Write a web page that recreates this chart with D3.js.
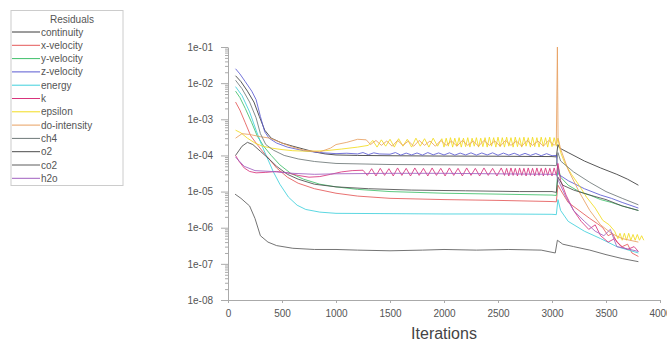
<!DOCTYPE html>
<html>
<head>
<meta charset="utf-8">
<script src="https://cdn.jsdelivr.net/npm/d3@7"></script>
<style>
  body { margin: 0; background: #fff; }
  svg { font-family: "Liberation Sans", Arial, sans-serif; }
  .axis text { fill: #555; font-size: 10px; }
  .axis path, .axis line { stroke: #aaa; }
  .legend text { fill: #555; font-size: 10px; }
</style>
</head>
<body>
<div id="chart"></div>
<script>
// residual histories, [iteration, residual]
const continuity = [[70,1.6e-2],[120,1.1e-2],[180,6e-3],[240,3e-3],[290,1.2e-3],[340,5e-4],[400,3e-4],[500,2.2e-4],[600,1.8e-4],[700,1.5e-4],[800,1.25e-4],[900,1.1e-4],[1000,1.03e-4],[1200,1e-4],[1500,9.8e-5],[2000,9.6e-5],[2500,9.5e-5],[3000,9.3e-5],[3040,9.1e-5],[3055,2e-4],[3070,1.6e-4],[3150,1.2e-4],[3300,7e-5],[3450,4.5e-5],[3600,3e-5],[3700,2.2e-5],[3800,1.5e-5]];
const xVelocity = [[70,3e-3],[110,1.8e-3],[160,8e-4],[210,3.5e-4],[260,2.2e-4],[320,1.3e-4],[380,8e-5],[450,4.5e-5],[550,2.5e-5],[650,1.7e-5],[800,1.2e-5],[1000,9e-6],[1200,7.5e-6],[1500,6.5e-6],[2000,6e-6],[2500,5.7e-6],[3000,5.3e-6],[3040,5.2e-6],[3055,1.5e-5],[3080,1.1e-5],[3150,5e-6],[3250,3e-6],[3350,1.8e-6],[3420,1.3e-6],[3470,1e-6],[3520,6e-7],[3560,7e-7],[3600,4e-7],[3650,3e-7],[3700,3.5e-7],[3740,2e-7],[3800,1.6e-7]];
const yVelocity = [[70,6e-3],[110,4e-3],[160,2e-3],[220,8e-4],[270,3.5e-4],[330,1.8e-4],[400,1e-4],[480,5.5e-5],[580,3.2e-5],[700,2.2e-5],[850,1.6e-5],[1000,1.35e-5],[1200,1.15e-5],[1500,1e-5],[2000,9e-6],[2500,8.5e-6],[3000,8e-6],[3040,7.8e-6],[3055,5e-5],[3080,2.5e-5],[3150,1.5e-5],[3250,1e-5],[3350,8e-6],[3450,6e-6],[3550,5e-6],[3650,4e-6],[3800,3e-6]];
const zVelocity = [[70,2.5e-2],[110,1.8e-2],[160,1.1e-2],[220,6e-3],[260,3.5e-3],[300,1.2e-3],[340,4.5e-4],[380,3e-4],[450,2.2e-4],[550,1.7e-4],[700,1.35e-4],[850,1.2e-4],[1000,1.12e-4],[1100,1.15e-4],[1200,1.1e-4],[1250,1.2e-4],[1300,1.05e-4],[1350,1.18e-4],[1400,1.1e-4],[1500,1.08e-4],[1550,1.2e-4],[1600,1.02e-4],[1650,1.16e-4],[1700,1.03e-4],[1750,1.17e-4],[1800,1.02e-4],[1850,1.2e-4],[1900,1.04e-4],[1950,1.17e-4],[2000,1.03e-4],[2050,1.18e-4],[2100,1.02e-4],[2150,1.16e-4],[2200,1.03e-4],[2250,1.18e-4],[2300,1.02e-4],[2350,1.17e-4],[2400,1.03e-4],[2450,1.18e-4],[2500,1.01e-4],[2550,1.16e-4],[2600,1.02e-4],[2650,1.15e-4],[2700,1e-4],[2750,1.14e-4],[2800,1e-4],[2850,1.13e-4],[2900,9.8e-5],[2950,1.12e-4],[3000,9.8e-5],[3040,1e-4],[3060,3e-5],[3150,2e-5],[3300,1.2e-5],[3450,8e-6],[3550,6.5e-6],[3650,5e-6],[3800,3.5e-6]];
const energy = [[70,8e-3],[130,4.5e-3],[200,1.6e-3],[260,5e-4],[310,2e-4],[360,9e-5],[420,3.5e-5],[480,1.6e-5],[560,7e-6],[640,4.2e-6],[720,3.2e-6],[850,2.7e-6],[1000,2.5e-6],[1500,2.45e-6],[2000,2.4e-6],[2500,2.4e-6],[3000,2.35e-6],[3040,2.3e-6],[3055,6e-6],[3080,3e-6],[3150,1.5e-6],[3300,8e-7],[3450,5e-7],[3600,3e-7],[3800,2e-7]];
const kTurb = [[70,1e-4],[100,7e-5],[150,4.5e-5],[200,3.6e-5],[260,3.3e-5],[350,3.4e-5],[450,3.6e-5],[550,3.3e-5],[650,2.8e-5],[750,2.5e-5],[850,2.6e-5],[950,3e-5],[1050,3.5e-5],[1150,3.8e-5],[1250,3.9e-5],[1290,2.8e-5],[1330,4.3e-5],[1370,2.7e-5],[1410,4.4e-5],[1450,2.8e-5],[1490,4.3e-5],[1530,2.7e-5],[1570,4.5e-5],[1610,2.8e-5],[1650,4.4e-5],[1690,2.7e-5],[1730,4.5e-5],[1770,2.8e-5],[1810,4.4e-5],[1850,2.7e-5],[1890,4.5e-5],[1930,2.8e-5],[1970,4.4e-5],[2010,2.7e-5],[2050,4.5e-5],[2090,2.8e-5],[2130,4.4e-5],[2170,2.7e-5],[2210,4.5e-5],[2250,2.8e-5],[2290,4.4e-5],[2330,2.7e-5],[2370,4.5e-5],[2410,2.8e-5],[2450,4.4e-5],[2490,2.7e-5],[2530,4.5e-5],[2560,2.8e-5],[2580,4.4e-5],[2600,2.7e-5],[2620,4.5e-5],[2640,2.8e-5],[2660,4.4e-5],[2680,2.7e-5],[2700,4.5e-5],[2720,2.8e-5],[2740,4.4e-5],[2760,2.7e-5],[2780,4.5e-5],[2800,2.8e-5],[2820,4.4e-5],[2840,2.7e-5],[2860,4.5e-5],[2880,2.8e-5],[2900,4.4e-5],[2920,2.7e-5],[2940,4.5e-5],[2960,2.8e-5],[2980,4.4e-5],[3000,2.7e-5],[3020,4.5e-5],[3040,2.8e-5],[3055,6e-5],[3080,2e-5],[3130,8e-6],[3200,3e-6],[3270,1.5e-6],[3340,9e-7],[3400,1.2e-6],[3450,6e-7],[3520,4e-7],[3580,5e-7],[3640,3e-7],[3700,2.5e-7],[3760,3e-7],[3800,2.2e-7]];
const epsilon = [[70,5e-4],[120,4.2e-4],[180,3e-4],[250,2.2e-4],[320,1.8e-4],[400,1.6e-4],[500,1.45e-4],[600,1.35e-4],[750,1.3e-4],[900,1.35e-4],[1050,1.5e-4],[1200,1.7e-4],[1300,1.9e-4],[1340,2.6e-4],[1380,1.7e-4],[1420,2.7e-4],[1460,1.8e-4],[1500,2.8e-4],[1540,1.7e-4],[1580,2.9e-4],[1620,1.8e-4],[1660,2.8e-4],[1700,1.7e-4],[1740,3e-4],[1780,1.8e-4],[1820,2.9e-4],[1860,1.7e-4],[1900,3e-4],[1940,1.8e-4],[1980,2.9e-4],[2000,1.7e-4],[2020,3e-4],[2040,1.8e-4],[2060,3.1e-4],[2080,1.7e-4],[2100,3e-4],[2120,1.8e-4],[2140,3.1e-4],[2160,1.7e-4],[2180,3e-4],[2200,1.75e-4],[2220,3.1e-4],[2240,1.7e-4],[2260,3e-4],[2280,1.8e-4],[2300,3.1e-4],[2320,1.7e-4],[2340,3e-4],[2360,1.75e-4],[2380,3.1e-4],[2400,1.7e-4],[2420,3.2e-4],[2440,1.8e-4],[2460,3.1e-4],[2480,1.7e-4],[2500,3.2e-4],[2520,1.75e-4],[2540,3.1e-4],[2560,1.7e-4],[2580,3.2e-4],[2600,1.8e-4],[2620,3.1e-4],[2640,1.7e-4],[2660,3.2e-4],[2680,1.75e-4],[2700,3.1e-4],[2720,1.7e-4],[2740,3.2e-4],[2760,1.8e-4],[2780,3.1e-4],[2800,1.7e-4],[2820,3.2e-4],[2840,1.75e-4],[2860,3.1e-4],[2880,1.7e-4],[2900,3.2e-4],[2920,1.8e-4],[2940,3.1e-4],[2960,1.7e-4],[2980,3.2e-4],[3000,1.75e-4],[3020,3.1e-4],[3040,1.8e-4],[3055,3e-4],[3080,1.2e-4],[3120,6e-5],[3180,3e-5],[3250,1.5e-5],[3320,7e-6],[3400,3.5e-6],[3470,1.6e-6],[3530,1.2e-6],[3580,8e-7],[3610,5e-7],[3630,7e-7],[3650,4.5e-7],[3670,7e-7],[3690,4.5e-7],[3710,7e-7],[3730,4.5e-7],[3750,6.5e-7],[3770,4.5e-7],[3790,6.5e-7],[3810,4.5e-7],[3830,6e-7],[3850,4.5e-7]];
const doIntensity = [[70,3e-4],[130,4e-4],[200,3.8e-4],[300,3.3e-4],[390,3e-4],[500,2.2e-4],[600,1.7e-4],[700,1.4e-4],[850,1.25e-4],[950,1.6e-4],[1000,2e-4],[1100,2.3e-4],[1200,2.8e-4],[1280,2.7e-4],[1320,2e-4],[1370,2.6e-4],[1420,1.9e-4],[1470,2.5e-4],[1520,1.8e-4],[1570,2.6e-4],[1620,1.9e-4],[1670,2.5e-4],[1720,1.8e-4],[1770,2.6e-4],[1820,1.9e-4],[1870,2.5e-4],[1920,1.8e-4],[1970,2.6e-4],[2020,1.9e-4],[2070,2.5e-4],[2120,1.8e-4],[2170,2.6e-4],[2220,1.9e-4],[2270,2.5e-4],[2320,1.8e-4],[2370,2.6e-4],[2420,1.9e-4],[2470,2.5e-4],[2520,1.8e-4],[2570,2.6e-4],[2620,1.9e-4],[2670,2.5e-4],[2720,1.8e-4],[2770,2.6e-4],[2820,1.9e-4],[2870,2.5e-4],[2920,1.8e-4],[2970,2.6e-4],[3020,1.9e-4],[3040,2.2e-4],[3050,1e-1],[3056,3e-4],[3080,1.5e-4],[3150,4e-5],[3250,1e-5],[3350,3e-6],[3450,1.2e-6],[3550,7e-7],[3650,5e-7],[3800,4e-7]];
const ch4 = [[70,1.2e-2],[130,7e-3],[200,3e-3],[260,1.1e-3],[300,4e-4],[350,2e-4],[420,1.4e-4],[520,1e-4],[650,8e-5],[800,6.8e-5],[1000,6e-5],[1500,5.6e-5],[2000,5.5e-5],[2500,5.4e-5],[3000,5.3e-5],[3040,5.2e-5],[3055,1.2e-4],[3080,7e-5],[3200,3.5e-5],[3350,1.8e-5],[3500,1e-5],[3650,6.5e-6],[3800,4.3e-6]];
const o2 = [[70,1e-4],[130,1.8e-4],[180,2.3e-4],[230,2e-4],[300,1.3e-4],[380,8e-5],[450,5e-5],[550,3e-5],[650,2.2e-5],[800,1.6e-5],[1000,1.35e-5],[1300,1.2e-5],[1700,1.1e-5],[2200,1.05e-5],[2700,1e-5],[3000,1e-5],[3040,9.5e-6],[3055,2.5e-5],[3100,1.5e-5],[3200,1.1e-5],[3350,8e-6],[3500,6e-6],[3650,4e-6],[3800,3e-6]];
const co2 = [[65,8.5e-6],[120,6.5e-6],[200,4e-6],[250,1.8e-6],[300,6e-7],[370,4e-7],[450,3.2e-7],[600,2.7e-7],[800,2.5e-7],[1000,2.5e-7],[1200,2.4e-7],[1500,2.3e-7],[1800,2.4e-7],[2000,2.5e-7],[2300,2.4e-7],[2600,2.5e-7],[2900,2.4e-7],[3030,2e-7],[3050,4.5e-7],[3100,3.5e-7],[3200,3e-7],[3350,2.4e-7],[3500,1.8e-7],[3650,1.4e-7],[3800,1.15e-7]];
const h2o = [[70,9e-5],[150,5e-5],[250,3.8e-5],[400,3.6e-5],[600,3.2e-5],[800,3e-5],[1000,3.1e-5],[1500,3.2e-5],[2000,3.2e-5],[2500,3.1e-5],[3000,3e-5],[3040,3e-5],[3060,2e-5],[3130,7e-6],[3200,3e-6],[3300,1.5e-6],[3400,8e-7],[3480,6e-7],[3540,9e-7],[3600,3e-7],[3700,2.6e-7],[3800,2.2e-7]];

const seriesNames = ["continuity", "x-velocity", "y-velocity", "z-velocity", "energy", "k",
                     "epsilon", "do-intensity", "ch4", "o2", "co2", "h2o"];
const seriesData = [continuity, xVelocity, yVelocity, zVelocity, energy, kTurb,
                    epsilon, doIntensity, ch4, o2, co2, h2o];
const seriesColors = ["#3a3a3a", "#e45858", "#3fbf6a", "#5a5ad2", "#3fd0dc", "#d8347c",
                      "#f2dc1e", "#e8a060", "#6e7878", "#4c4c4c", "#5c5c5c", "#a060c0"];
const yTicks = [1e-1, 1e-2, 1e-3, 1e-4, 1e-5, 1e-6, 1e-7, 1e-8];
const xTicks = [0, 500, 1000, 1500, 2000, 2500, 3000, 3500, 4000];

const width = 667, height = 342;
const plot = { left: 228, right: 660, top: 47, bottom: 300 };

const svg = d3.select("#chart").append("svg")
    .attr("width", width)
    .attr("height", height);

const x = d3.scaleLinear().domain([0, 4000]).range([plot.left, plot.right]);
const y = d3.scaleLog().domain([1e-8, 1e-1]).range([plot.bottom, plot.top]);

svg.append("defs").append("clipPath").attr("id", "clip")
  .append("rect")
    .attr("x", plot.left).attr("y", plot.top - 4)
    .attr("width", plot.right - plot.left).attr("height", plot.bottom - plot.top + 4);

// minor log ticks
let minor = [];
for (let e = -8; e < -1; e++) {
    for (let m = 2; m < 10; m++) minor.push(m * Math.pow(10, e));
}
svg.append("g").attr("class", "axis")
    .attr("transform", "translate(" + plot.left + ",0)")
    .call(d3.axisLeft(y).tickValues(minor).tickSize(3).tickFormat(""))
    .call(g => g.select(".domain").remove())
    .selectAll("line").attr("stroke", "#ccc");

let fmt = d => "1e-" + String(Math.round(-Math.log10(d))).padStart(2, "0");
svg.append("g").attr("class", "axis")
    .attr("transform", "translate(" + plot.left + ",0)")
    .call(d3.axisLeft(y).tickValues(yTicks).tickSizeInner(7).tickSizeOuter(0).tickPadding(8).tickFormat(fmt));

svg.append("g").attr("class", "axis")
    .attr("transform", "translate(0," + plot.bottom + ")")
    .call(d3.axisBottom(x).tickValues(xTicks).tickSizeInner(3).tickSizeOuter(0).tickPadding(7)
            .tickFormat(d3.format("d")));

svg.append("text")
    .attr("x", (plot.left + plot.right) / 2)
    .attr("y", 339)
    .attr("text-anchor", "middle")
    .style("font-size", "16px")
    .style("fill", "#444")
    .text("Iterations");

let line = d3.line()
    .x(d => x(d[0]))
    .y(d => y(d[1]));

svg.append("g").attr("clip-path", "url(#clip)")
  .selectAll("path")
  .data(seriesData)
  .enter().append("path")
    .attr("d", line)
    .attr("fill", "none")
    .attr("stroke", (d, i) => seriesColors[i])
    .attr("stroke-width", 1)
    .attr("stroke-opacity", 0.85);

// legend
let lg = svg.append("g").attr("class", "legend");
lg.append("rect")
    .attr("x", 11).attr("y", 10.5)
    .attr("width", 112).attr("height", 175)
    .attr("fill", "none")
    .attr("stroke", "#ccc");
lg.append("text")
    .attr("x", 72).attr("y", 23)
    .attr("text-anchor", "middle")
    .text("Residuals");
let item = lg.selectAll(".item")
    .data(seriesNames)
    .enter().append("g")
    .attr("class", "item")
    .attr("transform", (d, i) => "translate(0," + (32 + i * 13.3) + ")");
item.append("line")
    .attr("x1", 12).attr("x2", 40)
    .attr("y1", 0).attr("y2", 0)
    .attr("stroke", (d, i) => seriesColors[i]);
item.append("text")
    .attr("x", 41).attr("y", 3.5)
    .text(d => d);
</script>
</body>
</html>
